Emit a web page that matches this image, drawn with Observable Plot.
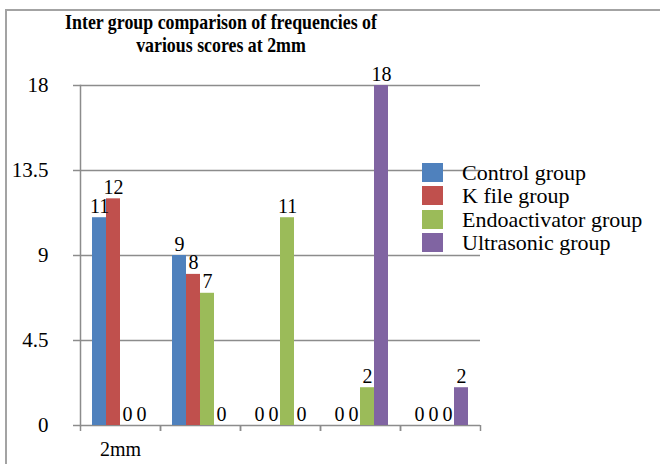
<!DOCTYPE html>
<html>
<head>
<meta charset="utf-8">
<script src="https://cdn.jsdelivr.net/npm/d3@7"></script>
<script src="https://cdn.jsdelivr.net/npm/@observablehq/plot@0.6"></script>
<style>
  body { margin: 0; background: #fff; }
  #wrap { position: relative; width: 660px; height: 464px; overflow: hidden;
          font-family: "Liberation Serif", "Times New Roman", serif; color: #000; }
  #frame { position: absolute; left: 5px; top: 9px; right: -10px; bottom: -10px;
           border-top: 2px solid #a3a3a3; border-left: 2px solid #a3a3a3; pointer-events: none; }
  #chart { position: absolute; left: 0; top: 0; }
  #title { position: absolute; left: 0; top: 11px; width: 442px; text-align: center;
           font-weight: bold; font-size: 21px; line-height: 23px;
           transform: scaleX(0.85); transform-origin: 221px 0; white-space: nowrap; }
  #legend { position: absolute; left: 422px; top: 163px; }
  .row { position: absolute; left: 0; height: 19px; white-space: nowrap; }
  .sw { position: absolute; left: 0; top: 0; width: 21px; height: 19px; }
  .lab { position: absolute; left: 40px; top: 0; font-size: 22px; line-height: 19px; }
</style>
</head>
<body>
<div id="wrap">
  <div id="chart"></div>
  <div id="frame"></div>
  <div id="title"></div>
  <div id="legend"></div>
</div>
<script>
// ---- data ----
const titleLines = ["Inter group comparison of frequencies of", "various scores at 2mm"];
const groups = ["g1", "g2", "g3", "g4", "g5"];
const xTickLabels = ["2mm", "", "", "", ""];
const series = ["Control group", "K file group", "Endoactivator group", "Ultrasonic group"];
const controlValues = [11, 9, 0, 0, 0];
const kfileValues = [12, 8, 0, 0, 0];
const endoValues = [0, 7, 11, 2, 0];
const ultraValues = [0, 0, 0, 18, 2];
const yTicks = [0, 4.5, 9, 13.5, 18];
const colors = ["#4F81BD", "#C0504D", "#9BBB59", "#8064A2"];

const seriesValues = [controlValues, kfileValues, endoValues, ultraValues];
const data = [];
groups.forEach((g, i) => series.forEach((s, j) => data.push({group: g, series: s, value: seriesValues[j][i]})));

const gridColor = "#8c8c8c";
const font = "'Liberation Serif', 'Times New Roman', serif";

const chart = Plot.plot({
  width: 660, height: 464,
  marginLeft: 80, marginRight: 180, marginTop: 85, marginBottom: 39,
  style: {fontFamily: font, background: "transparent", overflow: "visible", color: "#000"},
  fx: {domain: groups, padding: 0, label: null},
  x: {domain: series, paddingInner: 0, paddingOuter: 0.76, axis: null},
  y: {domain: [0, 18], label: null},
  color: {domain: series, range: colors},
  marks: [
    Plot.ruleY(yTicks, {stroke: gridColor, strokeWidth: 1.5}),
    Plot.frame({anchor: "left", facetAnchor: "left", stroke: gridColor, strokeWidth: 1.5}),
    Plot.axisY({ticks: yTicks, tickSize: 7, tickPadding: 25, stroke: gridColor, strokeWidth: 1.5,
                fill: "#000", fontSize: 21, tickFormat: d => String(d), label: null}),
    Plot.axisFx({anchor: "bottom", tickSize: 6, dx: -40, tickFormat: () => "", stroke: gridColor, strokeWidth: 1.5, label: null}),
    Plot.axisFx([groups[groups.length - 1]], {anchor: "bottom", tickSize: 6, dx: 40, tickFormat: () => "", stroke: gridColor, strokeWidth: 1.5, label: null}),
    Plot.axisFx({anchor: "bottom", tickSize: 0, tickPadding: 16, fontSize: 20, fill: "#000",
                 tickFormat: d => xTickLabels[groups.indexOf(d)], label: null}),
    Plot.barY(data, {fx: "group", x: "series", y: "value", fill: "series"}),
    Plot.text(data, {fx: "group", x: "series", y: "value", text: d => String(d.value),
                     dy: -5, lineAnchor: "bottom", fontSize: 20, fill: "#000"})
  ]
});
document.getElementById("chart").appendChild(chart);

document.getElementById("title").innerHTML = titleLines.join("<br>");

const legend = document.getElementById("legend");
series.forEach((s, i) => {
  const row = document.createElement("div");
  row.className = "row";
  row.style.top = (i * 23.3) + "px";
  const sw = document.createElement("div");
  sw.className = "sw";
  sw.style.background = colors[i];
  const lab = document.createElement("span");
  lab.className = "lab";
  lab.textContent = s;
  row.appendChild(sw);
  row.appendChild(lab);
  legend.appendChild(row);
});
</script>
</body>
</html>
